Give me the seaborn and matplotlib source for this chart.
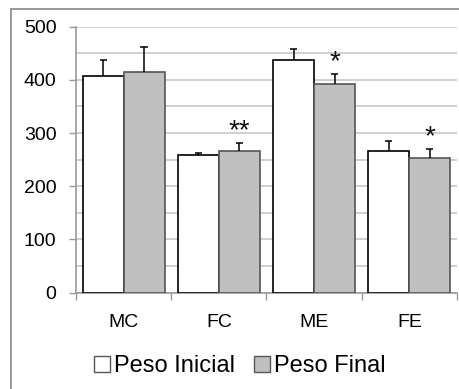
import pandas as pd
import numpy as np
import seaborn as sns
import matplotlib.pyplot as plt
from matplotlib.patches import Patch
from matplotlib.lines import Line2D

# données
grupos = ["MC", "FC", "ME", "FE"]
peso_inicial = [407, 258, 437, 267]
peso_final = [414, 267, 393, 254]
dp_inicial = [30, 4, 21, 19]
dp_final = [48, 14, 19, 17]
signif_final = ["", "**", "*", "*"]
series = ["Peso Inicial", "Peso Final"]

df = pd.DataFrame({
    "grupo": grupos * 2,
    "serie": [series[0]] * 4 + [series[1]] * 4,
    "peso": peso_inicial + peso_final,
})

sns.set_style("white")
plt.rcParams["font.family"] = ["Liberation Sans", "DejaVu Sans"]
plt.rcParams["text.color"] = "black"
plt.rcParams["xtick.labelcolor"] = "black"
plt.rcParams["ytick.labelcolor"] = "black"

fig = plt.figure(figsize=(4.6, 3.89), dpi=100)
ax = fig.add_axes([0.165, 0.2476, 0.8285, 0.6838])

sns.barplot(data=df, x="grupo", y="peso", hue="serie", order=grupos,
            hue_order=series, palette=["white", "#c0c0c0"], width=0.86,
            gap=0, errorbar=None, legend=False, ax=ax, zorder=3)

n = len(grupos)
cores_borda = ["black", "#555555"]
cap = 0.037
for i, p in enumerate(ax.patches[:2 * n]):
    s = i // n
    p.set_edgecolor(cores_borda[s])
    p.set_linewidth(1.2)
    x = p.get_x() + p.get_width() / 2
    h = p.get_height()
    dp = (dp_inicial if s == 0 else dp_final)[i % n]
    # barre d'erreur vers le haut seulement
    ax.vlines(x, h, h + dp, color="black", lw=1.1, zorder=4)
    ax.hlines(h + dp, x - cap, x + cap, color="black", lw=1.1, zorder=4)
    if s == 1 and signif_final[i % n]:
        ax.annotate(signif_final[i % n], (x, h + dp), xytext=(0, -1),
                    textcoords="offset points", ha="center", va="bottom",
                    fontsize=20, color="#111111")

ax.set_ylim(0, 500)
ax.set_xlim(-0.5, n - 0.5)
ax.set_yticks(np.arange(0, 501, 100))
ax.set_yticks(np.arange(0, 501, 50), minor=True)
ax.yaxis.grid(True, which="both", color="#c8c8c8", linewidth=1.2, zorder=0)
ax.set_axisbelow(True)
ax.set_xticks(np.arange(n))
ax.set_xticklabels(grupos)
ax.set_xticks(np.arange(n + 1) - 0.5, minor=True)
ax.tick_params(axis="x", which="major", length=0, pad=15, labelsize=14)
ax.tick_params(axis="x", which="minor", length=5, width=1, color="#999999",
               direction="out", bottom=True)
ax.tick_params(axis="y", which="major", length=5, width=1, color="#999999",
               direction="out", left=True, pad=9, labelsize=14)
ax.tick_params(axis="y", which="minor", length=0)
ax.set_xlabel("")
ax.set_ylabel("")
for lado in ["top", "right"]:
    ax.spines[lado].set_visible(False)
for lado in ["left", "bottom"]:
    ax.spines[lado].set_color("#999999")
    ax.spines[lado].set_linewidth(1.2)

handles = [Patch(facecolor="white", edgecolor="#555555"),
           Patch(facecolor="#c0c0c0", edgecolor="#555555")]
fig.legend(handles, series, loc="center", bbox_to_anchor=(0.522, 0.059),
           ncol=2, frameon=False, fontsize=17, handlelength=0.65,
           handleheight=0.65, handletextpad=0.2, columnspacing=0.8)

# cadre extérieur (gauche et haut)
fig.add_artist(Line2D([11 / 460, 11 / 460], [0, 1 - 9 / 389], color="#888888", lw=1.2))
fig.add_artist(Line2D([11 / 460, 1], [1 - 9 / 389, 1 - 9 / 389], color="#888888", lw=1.2))

fig.savefig("out.png", dpi=100)
